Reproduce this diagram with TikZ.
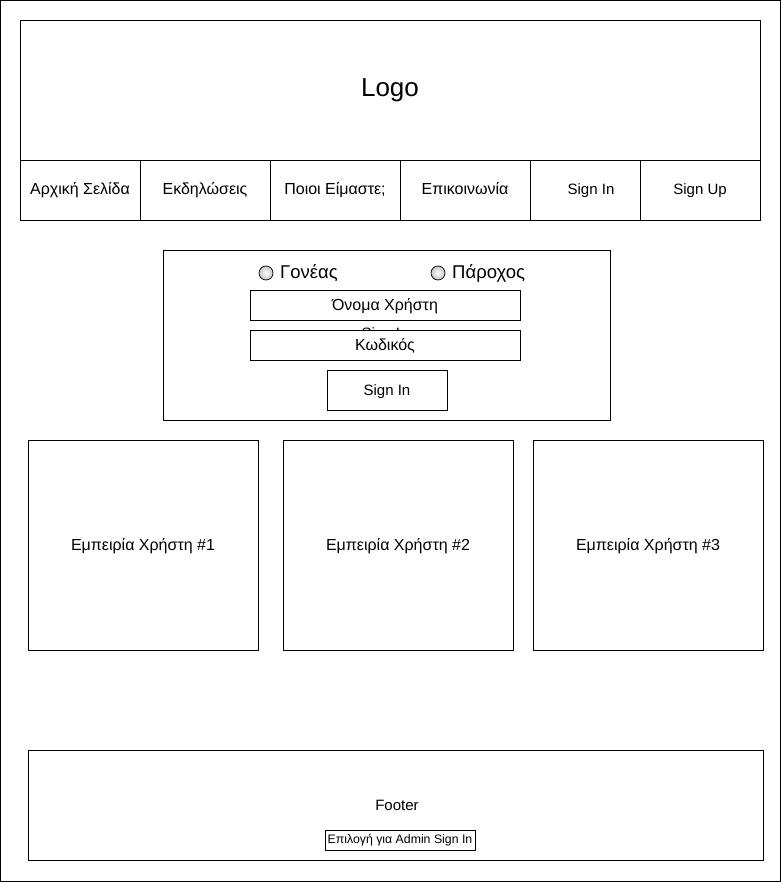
\documentclass[tikz,border=0pt]{standalone}
\usepackage{fontspec}
\setmainfont{Liberation Sans}
\usetikzlibrary{positioning}

\tikzset{
  box/.style={draw, fill=white, line width=0.8pt, inner sep=0pt, text height=12pt, text depth=2pt, font=\fontsize{16}{18}\selectfont},
  latin/.style={font=\fontsize{15}{18}\selectfont},
  navbox/.style={box, minimum height=60pt},
  card/.style={box, minimum width=230pt, minimum height=210pt},
  radio/.style={circle, draw, line width=0.7pt, minimum size=14pt, inner sep=0pt, inner color=white, outer color=gray!45},
  radiotext/.style={font=\fontsize{18.5}{20}\selectfont, anchor=base west, inner sep=0pt}
}

\begin{document}
\begin{tikzpicture}[x=1pt,y=-1pt]
  \useasboundingbox (0,0) rectangle (781,882);
  \draw[line width=1pt] (0.5,0.5) rectangle (780.5,881.5);
  % header and menu
  \node (logo) at (390,90) [box, minimum width=740pt, minimum height=140pt, text height=18pt, text depth=4pt, font=\fontsize{26}{30}\selectfont] {Logo};
  \node (home) at (80,190) [navbox, minimum width=120pt] {Αρχική Σελίδα};
  \node (events) at (205,190) [navbox, minimum width=130pt] {Εκδηλώσεις};
  \node (about) at (335,190) [navbox, minimum width=130pt] {Ποιοι Είμαστε;};
  \node (contact) at (465,190) [navbox, minimum width=130pt] {Επικοινωνία};
  \node (signin) at (585,190) [navbox, latin, minimum width=110pt] {\hspace*{12pt}Sign In};
  \node (signup) at (700,190) [navbox, latin, minimum width=120pt] {Sign Up};
  % login form
  \node (form) at (386.5,335) [box, minimum width=447pt, minimum height=170pt] {};
  \node (hidden) at (385,338) [latin, anchor=base, inner sep=0pt] {Sign In};
  \node (parent) at (266,273) [radio] {};
  \node (parentl) at (280,279) [radiotext] {Γονέας};
  \node (provider) at (438,273) [radio] {};
  \node (providerl) at (452,279) [radiotext] {Πάροχος};
  \node (user) at (385,305) [box, minimum width=270pt, minimum height=30pt] {Όνομα Χρήστη};
  \node (pass) at (385,345) [box, minimum width=270pt, minimum height=30pt] {Κωδικός};
  \node (submit) at (387,390) [box, latin, minimum width=120pt, minimum height=40pt] {Sign In};
  % testimonials
  \node (exp1) at (143,545) [card] {Εμπειρία Χρήστη \#1};
  \node (exp2) at (398,545) [card] {Εμπειρία Χρήστη \#2};
  \node (exp3) at (648,545) [card] {Εμπειρία Χρήστη \#3};
  % footer
  \node (footer) at (395.5,805) [box, minimum width=735pt, minimum height=110pt] {};
  \node (footerl) at (397,805) [latin, text height=12pt, text depth=2pt] {Footer};
  \node (admin) at (400,840) [box, minimum width=150pt, minimum height=20pt, text height=9pt, text depth=2pt, font=\fontsize{12.3}{14}\selectfont] {Επιλογή για Admin Sign In};
\end{tikzpicture}
\end{document}
